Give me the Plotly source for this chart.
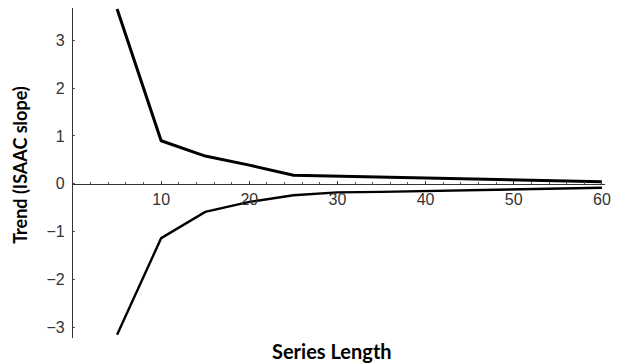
import plotly.graph_objects as go

# Series length (number of points) and the upper / lower trend bounds
series_length = [5, 10, 15, 20, 25, 30, 35, 40, 45, 50, 55, 60]
upper_trend = [3.66, 0.90, 0.58, 0.39, 0.18, 0.16, 0.13, 0.105, 0.085, 0.065, 0.05, 0.04]
lower_trend = [-3.16, -1.14, -0.59, -0.38, -0.24, -0.18, -0.17, -0.155, -0.14, -0.115, -0.095, -0.085]

x_ticks = [10, 20, 30, 40, 50, 60]
y_ticks = [-3, -2, -1, 0, 1, 2, 3]
y_tick_text = ["\u22123", "\u22122", "\u22121", "0", "1", "2", "3"]

Y_MIN, Y_MAX = -3.23, 3.68
X_MIN, X_MAX = 0, 60.35

fig = go.Figure()
fig.add_trace(go.Scatter(x=series_length, y=upper_trend, mode="lines",
                         line=dict(color="black", width=3), showlegend=False))
fig.add_trace(go.Scatter(x=series_length, y=lower_trend, mode="lines",
                         line=dict(color="black", width=2.4), showlegend=False))

tick_font = dict(family="Liberation Sans, Arial, sans-serif", size=16, color="#333333")
zero_pos = (0 - Y_MIN) / (Y_MAX - Y_MIN)

fig.update_layout(
    width=619, height=364,
    margin=dict(l=73, r=10, t=8, b=26),
    paper_bgcolor="white", plot_bgcolor="white",
    xaxis=dict(
        range=[X_MIN, X_MAX], anchor="free", position=zero_pos,
        showgrid=False, zeroline=False,
        showline=True, linecolor="#333333", linewidth=1.3,
        tickvals=x_ticks, ticks="inside", ticklen=3, tickwidth=1, tickcolor="#333333",
        minor=dict(dtick=2, tick0=0, ticks="inside", ticklen=2, tickwidth=1, tickcolor="#555555"),
        tickfont=tick_font, ticklabelstandoff=1,
    ),
    yaxis=dict(
        range=[Y_MIN, Y_MAX],
        showgrid=False, zeroline=False,
        showline=True, linecolor="#333333", linewidth=1.3,
        tickvals=y_ticks, ticktext=y_tick_text,
        ticks="inside", ticklen=2, tickwidth=1, tickcolor="#555555",
        tickfont=tick_font, ticklabelstandoff=4,
    ),
    annotations=[
        dict(text="<b>Series Length</b>", xref="paper", yref="paper",
             x=0.4867, y=-0.0406, xanchor="center", yanchor="middle", showarrow=False,
             font=dict(family="Lato, Open Sans, sans-serif", size=20, color="black")),
        dict(text="<b>Trend (ISAAC slope)</b>", xref="paper", yref="paper",
             x=-0.0994, y=0.525, xanchor="center", yanchor="middle", showarrow=False,
             textangle=-90,
             font=dict(family="Lato, Open Sans, sans-serif", size=18, color="black")),
    ],
)

fig.write_html("out.html")
